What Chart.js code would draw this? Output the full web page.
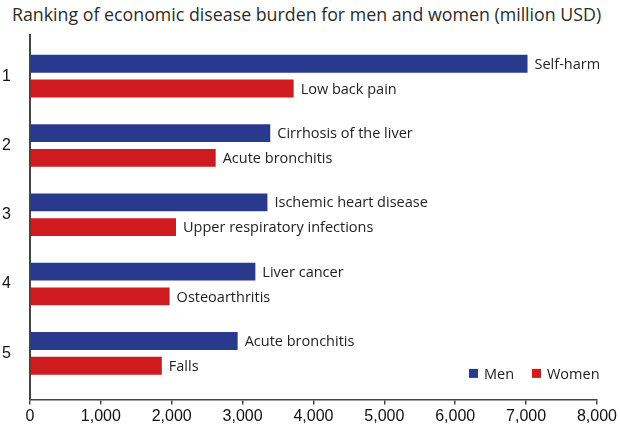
<!DOCTYPE html>
<html>
<head>
<meta charset="utf-8">
<script src="https://cdn.jsdelivr.net/npm/chart.js@4/dist/chart.umd.min.js"></script>
<style>
  html, body { margin: 0; padding: 0; background: #fff; }
  #wrap { position: relative; width: 620px; height: 428px; }
  #title {
    position: absolute; left: 12px; top: 2px;
    font-family: "Open Sans", sans-serif; font-size: 17.8px; color: #2b2b2b;
    white-space: nowrap;
  }
  canvas { position: absolute; left: 0; top: 0; }
</style>
</head>
<body>
<div id="wrap">
  <div id="title">Ranking of economic disease burden for men and women (million USD)</div>
  <canvas id="chart" width="620" height="428"></canvas>
</div>
<script>
// --- Datos ---
const ranks = [1, 2, 3, 4, 5];
const menValues = [7020, 3390, 3350, 3180, 2930];
const womenValues = [3720, 2620, 2060, 1970, 1860];
const menCauses = ['Self-harm', 'Cirrhosis of the liver', 'Ischemic heart disease', 'Liver cancer', 'Acute bronchitis'];
const womenCauses = ['Low back pain', 'Acute bronchitis', 'Upper respiratory infections', 'Osteoarthritis', 'Falls'];
const xTicks = [0, 1000, 2000, 3000, 4000, 5000, 6000, 7000, 8000];

const BLUE = '#293a8e';
const RED = '#cf1a20';
const AXIS = '#444';
const LABEL_FONT = '14.5px "Open Sans", sans-serif';

// Etiquetas al final de cada barra + leyenda manual
const barLabels = {
    id: 'barLabels',
    afterDatasetsDraw(chart) {
        const ctx = chart.ctx;
        ctx.save();
        ctx.font = LABEL_FONT;
        ctx.fillStyle = '#222';
        ctx.textBaseline = 'middle';
        ctx.textAlign = 'left';
        const causes = [menCauses, womenCauses];
        chart.data.datasets.forEach((ds, di) => {
            chart.getDatasetMeta(di).data.forEach((bar, i) => {
                ctx.fillText(causes[di][i], bar.x + 7, bar.y + 1);
            });
        });

        // Leyenda
        const area = chart.chartArea;
        const items = [['Men', BLUE], ['Women', RED]];
        let x = area.right - 128;
        const y = area.bottom - 26;
        items.forEach(([name, color]) => {
            ctx.fillStyle = color;
            ctx.fillRect(x, y - 4.5, 9, 9);
            ctx.fillStyle = '#222';
            ctx.fillText(name, x + 15, y + 1);
            x += 63;
        });
        ctx.restore();
    }
};

new Chart(document.getElementById('chart'), {
    type: 'bar',
    data: {
        datasets: [
            {
                label: 'Men',
                data: menValues.map((v, i) => ({ x: v, y: ranks[i] })),
                backgroundColor: BLUE
            },
            {
                label: 'Women',
                data: womenValues.map((v, i) => ({ x: v, y: ranks[i] })),
                backgroundColor: RED
            }
        ]
    },
    options: {
        indexAxis: 'y',
        responsive: false,
        animation: false,
        categoryPercentage: 0.714,
        barPercentage: 0.72,
        layout: { padding: { top: 35, right: 21, left: 0, bottom: 0 } },
        plugins: {
            legend: { display: false },
            tooltip: { enabled: false }
        },
        scales: {
            x: {
                type: 'linear',
                min: 0,
                max: 8000,
                afterBuildTicks: s => { s.ticks = xTicks.map(v => ({ value: v })); },
                afterFit: s => { s.height = 25; },
                grid: { drawOnChartArea: false, drawTicks: true, tickLength: 5, color: AXIS, lineWidth: 1.5 },
                border: { display: true, color: AXIS, width: 1.5 },
                ticks: {
                    color: '#111',
                    padding: 3,
                    font: { family: '"Liberation Sans", Arial, sans-serif', size: 16 },
                    callback: v => v.toLocaleString('en-US')
                }
            },
            y: {
                type: 'linear',
                reverse: true,
                offset: false,
                min: 0.407,
                max: 5.664,
                afterBuildTicks: s => { s.ticks = ranks.map(v => ({ value: v })); },
                afterFit: s => { s.width = 30; },
                grid: { display: false, drawTicks: false, offset: false },
                border: { display: true, color: AXIS, width: 2 },
                ticks: {
                    color: '#111',
                    padding: 19,
                    font: { family: '"Liberation Sans", Arial, sans-serif', size: 16 }
                }
            }
        }
    },
    plugins: [barLabels]
});
</script>
</body>
</html>
